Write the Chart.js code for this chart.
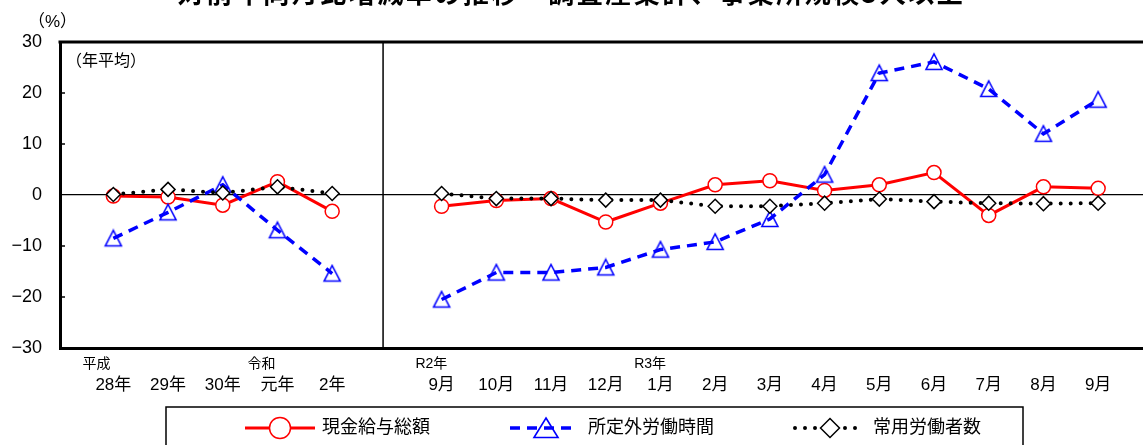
<!DOCTYPE html>
<html lang="ja">
<head>
<meta charset="utf-8">
<script src="https://cdn.jsdelivr.net/npm/chart.js@4.4.1/dist/chart.umd.min.js"></script>
<style>
    html, body { margin: 0; padding: 0; background: #fff; overflow: hidden; }
    #wrap { position: relative; width: 1143px; height: 445px; }
    #chart { position: absolute; left: 0; top: 0; }
    #title {
        position: absolute; left: 0; top: -21px; width: 1143px;
        text-align: center; white-space: nowrap;
        font: bold 26px "Noto Sans CJK JP"; line-height: 26px; letter-spacing: 2.5px;
    }
</style>
</head>
<body>
<div id="wrap">
    <canvas id="chart" width="1143" height="445"></canvas>
    <div id="title">対前年同月比増減率の推移　調査産業計、事業所規模5人以上</div>
</div>
<script>
    "use strict";

    // categories
    const annualLabels = ["28年", "29年", "30年", "元年", "2年"];
    const annualEras = ["平成", "", "", "令和", ""];
    const monthLabels = ["9月", "10月", "11月", "12月", "1月", "2月", "3月", "4月", "5月", "6月", "7月", "8月", "9月"];
    const monthEras = ["R2年", "", "", "", "R3年", "", "", "", "", "", "", "", ""];

    // series (%)
    const wageAnnual = [-0.2, -0.4, -2.0, 2.6, -3.2];
    const wageMonthly = [-2.2, -1.1, -0.7, -5.3, -1.6, 2.0, 2.8, 0.9, 2.0, 4.4, -4.0, 1.6, 1.3];
    const overtimeAnnual = [-8.5, -3.4, 2.0, -6.9, -15.4];
    const overtimeMonthly = [-20.5, -15.2, -15.2, -14.2, -10.7, -9.2, -4.7, 4.0, 23.9, 26.1, 20.8, 12.0, 18.7];
    const workersAnnual = [0.1, 1.1, 0.4, 1.6, 0.3];
    const workersMonthly = [0.3, -0.7, -0.7, -1.0, -1.0, -2.2, -2.2, -1.6, -0.8, -1.3, -1.6, -1.7, -1.6];

    // y ticks
    const yTicks = [-30, -20, -10, 0, 10, 20, 30];

    const categories = annualLabels.concat([""], monthLabels);
    const eras = annualEras.concat([""], monthEras);
    const FONT = "'Liberation Sans', 'Noto Sans CJK JP'";

    function toPoints(annual, monthly) {
        const pts = annual.map((v, i) => ({ x: i, y: v }));
        pts.push({ x: annual.length, y: null });
        monthly.forEach((v, i) => pts.push({ x: annual.length + 1 + i, y: v }));
        return pts;
    }

    function makeTriangle(w, h, lw) {
        const c = document.createElement("canvas");
        c.width = w;
        c.height = h;
        const g = c.getContext("2d");
        g.strokeStyle = "#0000ff";
        g.lineWidth = lw;
        g.beginPath();
        g.moveTo(w / 2, 2);
        g.lineTo(w - 2, h - 2.5);
        g.lineTo(2, h - 2.5);
        g.closePath();
        g.stroke();
        return c;
    }

    const triSmall = makeTriangle(20, 20, 1.6);
    const triLarge = makeTriangle(28, 24, 1.6);

    // frame, divider, inner ticks, era labels
    const framePlugin = {
        id: "frame",
        afterDraw(chart) {
            const { ctx, chartArea: a, scales } = chart;
            ctx.save();
            ctx.strokeStyle = "#000";
            ctx.lineWidth = 3;
            ctx.beginPath();
            ctx.moveTo(a.left - 1.5, a.top);
            ctx.lineTo(a.right, a.top);
            ctx.stroke();

            const dx = scales.x.getPixelForValue(4.93);
            ctx.lineWidth = 1.5;
            ctx.beginPath();
            ctx.moveTo(dx, a.top);
            ctx.lineTo(dx, a.bottom);
            ctx.stroke();

            yTicks.forEach((v) => {
                if (v === 0 || v === 30 || v === -30) return;
                const py = scales.y.getPixelForValue(v);
                ctx.beginPath();
                ctx.moveTo(a.left, py);
                ctx.lineTo(a.left + 5, py);
                ctx.stroke();
            });

            ctx.fillStyle = "#000";
            ctx.textBaseline = "middle";
            ctx.textAlign = "left";
            eras.forEach((e, i) => {
                if (!e) return;
                ctx.font = "17px " + FONT;
                const w = ctx.measureText(categories[i]).width;
                const px = scales.x.getPixelForValue(i);
                ctx.font = "14px " + FONT;
                ctx.fillText(e, px - w / 2 - 13, 364);
            });

            ctx.font = "17px " + FONT;
            ctx.fillText("（%）", 28, 22);
            ctx.font = "16px " + FONT;
            ctx.fillText("（年平均）", 66, 62);
            ctx.restore();
        },
    };

    // legend box with line + marker samples
    const legendPlugin = {
        id: "boxLegend",
        afterDraw(chart) {
            const ctx = chart.ctx;
            const y = 428;
            const slots = [
                { x1: 245, x2: 315, mx: 280, tx: 322, style: "circle", r: 10.5 },
                { x1: 510, x2: 571, mx: 546, tx: 588, style: triLarge, r: 12 },
                { x1: 795, x2: 858, mx: 830, tx: 873, style: "rectRot", r: 9.5 },
            ];
            ctx.save();
            ctx.strokeStyle = "#000";
            ctx.lineWidth = 1.5;
            ctx.strokeRect(166, 407, 857, 80);
            chart.data.datasets.forEach((ds, i) => {
                const s = slots[i];
                ctx.setLineDash(ds.borderDash || []);
                ctx.lineCap = ds.borderCapStyle || "butt";
                ctx.lineWidth = ds.borderWidth;
                ctx.strokeStyle = ds.borderColor;
                ctx.beginPath();
                ctx.moveTo(s.x1, y);
                ctx.lineTo(s.x2, y);
                ctx.stroke();
                ctx.setLineDash([]);
                ctx.fillStyle = ds.pointBackgroundColor;
                ctx.strokeStyle = ds.pointBorderColor;
                ctx.lineWidth = ds.pointBorderWidth;
                Chart.helpers.drawPoint(ctx, { pointStyle: s.style, radius: s.r, rotation: 0, borderWidth: ds.pointBorderWidth }, s.mx, y);
                ctx.fillStyle = "#000";
                ctx.font = "18px " + FONT;
                ctx.textBaseline = "middle";
                ctx.fillText(ds.label, s.tx, y);
            });
            ctx.restore();
        },
    };

    new Chart(document.getElementById("chart"), {
        type: "line",
        data: {
            datasets: [
                {
                    label: "現金給与総額",
                    data: toPoints(wageAnnual, wageMonthly),
                    borderColor: "#ff0000",
                    borderWidth: 3,
                    pointStyle: "circle",
                    pointRadius: 7,
                    pointBackgroundColor: "#ffffff",
                    pointBorderColor: "#ff0000",
                    pointBorderWidth: 1.5,
                    order: 3,
                },
                {
                    label: "所定外労働時間",
                    data: toPoints(overtimeAnnual, overtimeMonthly),
                    borderColor: "#0000ff",
                    borderWidth: 3.5,
                    borderDash: [10, 7],
                    pointStyle: triSmall,
                    pointRadius: 10,
                    pointBackgroundColor: "rgba(0,0,0,0)",
                    pointBorderColor: "#0000ff",
                    pointBorderWidth: 1.6,
                    order: 2,
                },
                {
                    label: "常用労働者数",
                    data: toPoints(workersAnnual, workersMonthly),
                    borderColor: "#000000",
                    borderWidth: 4,
                    borderDash: [0, 10],
                    borderCapStyle: "round",
                    pointStyle: "rectRot",
                    pointRadius: 7,
                    pointBackgroundColor: "#ffffff",
                    pointBorderColor: "#000000",
                    pointBorderWidth: 1.5,
                    order: 1,
                },
            ],
        },
        options: {
            responsive: false,
            animation: false,
            spanGaps: false,
            layout: {
                autoPadding: false,
                padding: { top: 42, right: 0, left: 0, bottom: 0 },
            },
            plugins: {
                legend: { display: false },
                tooltip: { enabled: false },
            },
            scales: {
                x: {
                    type: "linear",
                    min: -0.975,
                    max: 18.82,
                    grid: {
                        display: true,
                        drawOnChartArea: false,
                        drawTicks: true,
                        tickLength: 27,
                        tickColor: "rgba(0,0,0,0)",
                    },
                    border: { display: true, width: 3, color: "#000" },
                    afterBuildTicks: (scale) => {
                        scale.ticks = categories
                            .map((c, i) => ({ value: i, c: c }))
                            .filter((t) => t.c !== "")
                            .map((t) => ({ value: t.value }));
                    },
                    afterFit: (scale) => {
                        scale.height = 97;
                    },
                    ticks: {
                        autoSkip: false,
                        maxRotation: 0,
                        padding: 0,
                        color: "#000",
                        font: { size: 17, family: FONT },
                        callback: (value) => categories[value] || "",
                    },
                },
                y: {
                    min: -30,
                    max: 30,
                    afterBuildTicks: (scale) => {
                        scale.ticks = yTicks.map((v) => ({ value: v }));
                    },
                    afterFit: (scale) => {
                        scale.width = 60;
                    },
                    grid: {
                        drawTicks: false,
                        lineWidth: 1.2,
                        color: (c) => (c.tick && c.tick.value === 0 ? "#000" : "rgba(0,0,0,0)"),
                    },
                    border: { display: true, width: 3, color: "#000" },
                    ticks: {
                        padding: 18,
                        color: "#000",
                        font: { size: 18, family: FONT },
                        callback: (value) => (value < 0 ? "\u2212" + Math.abs(value) : String(value)),
                    },
                },
            },
        },
        plugins: [framePlugin, legendPlugin],
    });
</script>
</body>
</html>
